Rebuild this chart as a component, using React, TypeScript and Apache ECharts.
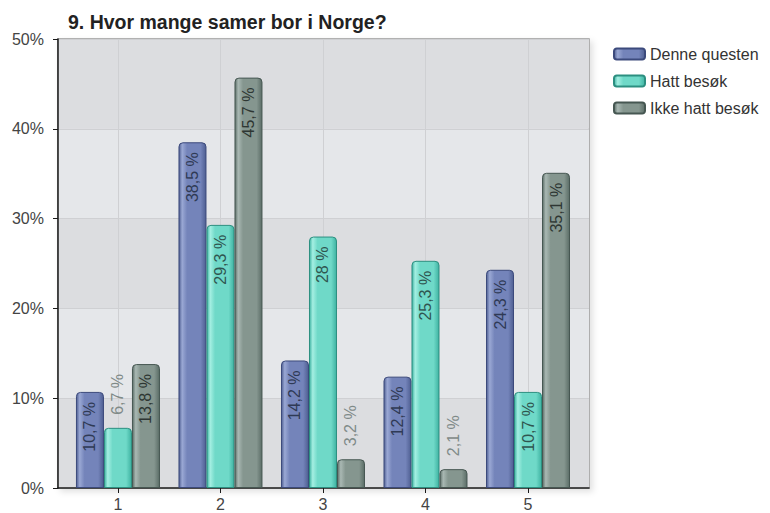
import React, { useEffect, useRef } from "react";
import * as echarts from "echarts";

const categories = ["1", "2", "3", "4", "5"];
const categoryPositions = [1, 2, 3, 4, 5];
const seriesNames = ["Denne questen", "Hatt besøk", "Ikke hatt besøk"];
const denneQuesten = [10.7, 38.5, 14.2, 12.4, 24.3];
const hattBesok = [6.7, 29.3, 28, 25.3, 10.7];
const ikkeHattBesok = [13.8, 45.7, 3.2, 2.1, 35.1];
const yTickValues = [0, 10, 20, 30, 40, 50];

const FONT = "'Liberation Sans', Arial, Helvetica, sans-serif";

function barGradient(dark: string, light: string, mid: string) {
  return new echarts.graphic.LinearGradient(0, 0, 1, 0, [
    { offset: 0, color: dark },
    { offset: 0.12, color: light },
    { offset: 0.3, color: mid },
    { offset: 0.8, color: mid },
    { offset: 1, color: dark },
  ]);
}

const palettes = [
  { fill: barGradient("#4f5f92", "#9aa8d4", "#7484ba"), border: "#3c4a7c", label: "#2f3a55" },
  { fill: barGradient("#3fb3a2", "#a4efe2", "#6fd9c8"), border: "#2c8f80", label: "#2f5550" },
  { fill: barGradient("#5b6d67", "#a9b8b3", "#85968f"), border: "#465752", label: "#2e3633" },
];

function fmt(v: number) {
  return String(v).replace(".", ",") + " %";
}

export default function App() {
  const ref = useRef<HTMLDivElement>(null);

  useEffect(() => {
    if (!ref.current) return;
    const chart = echarts.init(ref.current, undefined, { renderer: "svg" });
    const allData = [denneQuesten, hattBesok, ikkeHattBesok];

    const series = allData.map((vals, si) => ({
      name: seriesNames[si],
      type: "bar",
      barWidth: 28,
      barGap: "0%",
      itemStyle: {
        color: palettes[si].fill,
        borderColor: palettes[si].border,
        borderWidth: 1,
        borderRadius: [4, 4, 0, 0],
      },
      data: vals.map((v, i) => {
        const inside = v >= 8;
        return {
          value: [categoryPositions[i], v],
          label: {
            show: true,
            formatter: fmt(v),
            rotate: 90,
            position: inside ? "insideTop" : "top",
            align: inside ? "right" : "left",
            verticalAlign: "middle",
            distance: inside ? 10 : 13,
            fontSize: 16,
            fontFamily: FONT,
            color: inside ? palettes[si].label : "#7f8a88",
          },
        };
      }),
    }));

    chart.setOption({
      animation: false,
      backgroundColor: "#ffffff",
      title: {
        text: "9. Hvor mange samer bor i Norge?",
        left: 63,
        top: 7,
        textStyle: { fontSize: 19.5, fontWeight: "bold", color: "#222", fontFamily: FONT },
      },
      legend: {
        orient: "vertical",
        left: 613,
        top: 46,
        padding: 0,
        itemWidth: 31,
        itemHeight: 11,
        itemGap: 11,
        icon: "roundRect",
        textStyle: { fontSize: 16, color: "#333", fontFamily: FONT },
        data: seriesNames,
      },
      grid: {
        left: 58,
        right: 181,
        top: 39,
        bottom: 25,
        containLabel: false,
        outerBoundsMode: "none",
        show: true,
        backgroundColor: "#e2e3e6",
        borderColor: "#999999",
        borderWidth: 1.5,
        shadowColor: "rgba(0,0,0,0.12)",
        shadowBlur: 6,
        shadowOffsetX: 3,
        shadowOffsetY: 3,
      },
      xAxis: {
        type: "value",
        min: 0.415,
        max: 5.595,
        axisLine: { show: true, lineStyle: { color: "#1a1a1a", width: 1.5 } },
        axisTick: {
          show: true,
          customValues: categoryPositions,
          length: 5,
          lineStyle: { color: "#1a1a1a" },
        },
        axisLabel: {
          customValues: categoryPositions,
          formatter: (v: number) => categories[categoryPositions.indexOf(v)] ?? "",
          fontSize: 16,
          color: "#444",
          fontFamily: FONT,
          margin: 8,
        },
        splitLine: { show: true, lineStyle: { color: "#cfd0d3", width: 1 } },
      },
      yAxis: {
        type: "value",
        min: yTickValues[0],
        max: yTickValues[yTickValues.length - 1],
        interval: 10,
        axisLine: { show: true, lineStyle: { color: "#1a1a1a", width: 1.5 } },
        axisTick: { show: true, length: 5, lineStyle: { color: "#1a1a1a" } },
        axisLabel: {
          formatter: "{value}%",
          fontSize: 16,
          color: "#444",
          fontFamily: FONT,
          margin: 14,
        },
        splitLine: { show: true, lineStyle: { color: "#cfd0d3", width: 1 } },
        splitArea: { show: true, areaStyle: { color: ["#dcdde0", "#e5e7ea"] } },
      },
      series,
    });

    return () => chart.dispose();
  }, []);

  return (
    <div
      ref={ref}
      style={{ position: "fixed", left: 0, top: 0, width: 770, height: 513 }}
    />
  );
}
